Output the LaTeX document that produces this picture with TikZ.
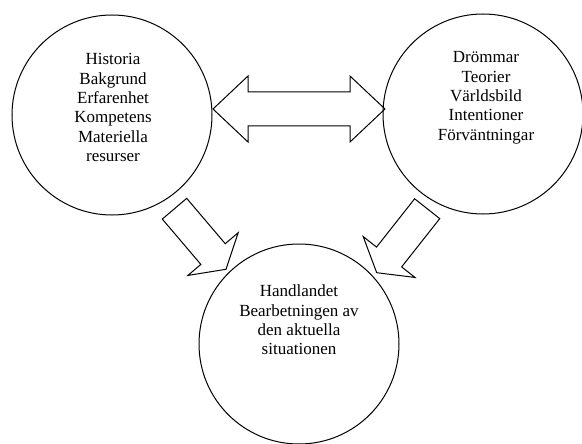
\documentclass[tikz,border=0pt]{standalone}
\usepackage{fontspec}
\setmainfont{Liberation Serif}
\usetikzlibrary{calc,positioning}

\tikzset{
  ring/.style={draw,circle,line width=1pt,minimum size=200pt,inner sep=0pt},
  ringtext/.style={align=center,font=\fontsize{17}{19.3}\selectfont,inner sep=0pt,anchor=north},
  blockarrow/.style={draw,line width=1pt,line join=miter}
}

% block arrow from tail (#1) to tip (#2)
\newcommand{\blockarrow}[2]{%
  \coordinate (h) at ($(#2)!20pt!(#1)$);
  \draw[blockarrow] ($(#1)!16pt!90:(#2)$) -- ($(h)!16pt!90:(#2)$) -- ($(h)!33pt!90:(#2)$)
    -- (#2) -- ($(h)!33pt!-90:(#2)$) -- ($(h)!16pt!-90:(#2)$) -- ($(#1)!16pt!-90:(#2)$) -- cycle;
}

\begin{document}
\begin{tikzpicture}[x=1pt,y=-1pt]
\useasboundingbox (0,0) rectangle (582,444);

\node[ring] (bakgrund) at (112,115) {};
\node[ring] (drommar) at (483,114) {};
\node[ring] (handling) at (299,344) {};

\node[ringtext] (bakgrundText) at (113,53.5) {Historia\\Bakgrund\\Erfarenhet\\Kompetens\\Materiella\\resurser};
\node[ringtext] (drommarText) at (486,51.5) {Drömmar\\Teorier\\Världsbild\\Intentioner\\Förväntningar};
\node[ringtext] (handlingText) at (299,285) {Handlandet\\Bearbetningen av\\den aktuella\\situationen};

% double arrow between the upper circles
\coordinate (L) at (213,109);
\coordinate (R) at (385,109);
\coordinate (hL) at ($(L)!35pt!(R)$);
\coordinate (hR) at ($(R)!35pt!(L)$);
\draw[blockarrow] (L) -- ($(hL)!33pt!90:(R)$) -- ($(hL)!17pt!90:(R)$) -- ($(hR)!17pt!-90:(L)$)
  -- ($(hR)!33pt!-90:(L)$) -- (R) -- ($(hR)!33pt!90:(L)$) -- ($(hR)!17pt!90:(L)$)
  -- ($(hL)!17pt!-90:(R)$) -- ($(hL)!33pt!-90:(R)$) -- cycle;

% arrows down to the lower circle
\coordinate (tailA) at (174.5,208.7);
\coordinate (tipA) at (226,269.3);
\blockarrow{tailA}{tipA}
\coordinate (tailB) at (427.2,208.7);
\coordinate (tipB) at (376.7,272.7);
\blockarrow{tailB}{tipB}
\end{tikzpicture}
\end{document}
